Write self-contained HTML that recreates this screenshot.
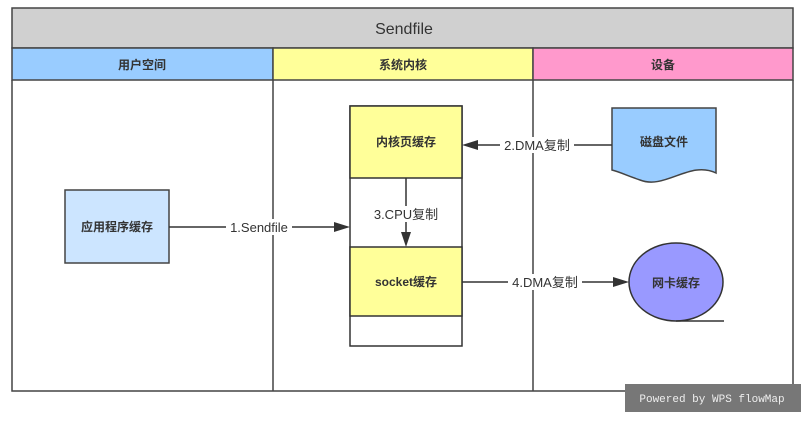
<!DOCTYPE html>
<html><head><meta charset="utf-8"><style>
body{margin:0;background:#fff;width:801px;height:418px;overflow:hidden}
svg text{font-family:"Liberation Sans","Noto Sans CJK SC",sans-serif;fill:#333}
</style></head><body>
<svg width="801" height="418" viewBox="0 0 801 418">
<rect x="0" y="0" width="801" height="418" fill="#fff"/>
<rect x="12" y="8" width="781" height="40" fill="#d0d0d0" stroke="#444" stroke-width="1.5"/>
<text x="404" y="34" font-size="16" text-anchor="middle">Sendfile</text>
<rect x="12" y="48" width="261" height="32" fill="#99ccff" stroke="#444" stroke-width="1.5"/>
<rect x="273" y="48" width="260" height="32" fill="#ffff99" stroke="#444" stroke-width="1.5"/>
<rect x="533" y="48" width="260" height="32" fill="#ff99cc" stroke="#444" stroke-width="1.5"/>
<text x="142" y="69" font-size="12" text-anchor="middle" font-weight="bold">用户空间</text>
<text x="403" y="69" font-size="12" text-anchor="middle" font-weight="bold">系统内核</text>
<text x="663" y="69" font-size="12" text-anchor="middle" font-weight="bold">设备</text>
<path d="M12 80 V391 H793 V80 M273 80 V391 M533 80 V391" fill="none" stroke="#444" stroke-width="1.5"/>
<rect x="65" y="190" width="104" height="73" fill="#cce5ff" stroke="#444" stroke-width="1.5"/>
<text x="117" y="231" font-size="12" text-anchor="middle" font-weight="bold">应用程序缓存</text>
<rect x="350" y="106" width="112" height="240" fill="#fff" stroke="#333" stroke-width="1.5"/>
<rect x="350" y="106" width="112" height="72" fill="#ffff99" stroke="#333" stroke-width="1.5"/>
<rect x="350" y="247" width="112" height="69" fill="#ffff99" stroke="#333" stroke-width="1.5"/>
<text x="406" y="146" font-size="12" text-anchor="middle" font-weight="bold">内核页缓存</text>
<text x="406" y="286" font-size="12" text-anchor="middle" font-weight="bold">socket缓存</text>
<path d="M612 108 H716 V173 C690 160 665 190 640 180 C628 176 620 172 612 170 Z" fill="#99ccff" stroke="#444" stroke-width="1.5"/>
<text x="664" y="146" font-size="12" text-anchor="middle" font-weight="bold">磁盘文件</text>
<ellipse cx="676" cy="282" rx="47" ry="39" fill="#9999ff" stroke="#333" stroke-width="1.5"/>
<line x1="676" y1="321" x2="724" y2="321" stroke="#333" stroke-width="1.5"/>
<text x="676" y="287" font-size="12" text-anchor="middle" font-weight="bold">网卡缓存</text>
<line x1="169" y1="227" x2="338" y2="227" stroke="#333" stroke-width="1.5"/>
<polygon points="350,227 334,222 334,232" fill="#333"/>
<rect x="226" y="219" width="66" height="16" fill="#fff"/>
<text x="259" y="232" font-size="13" text-anchor="middle">1.Sendfile</text>
<line x1="612" y1="145" x2="474" y2="145" stroke="#333" stroke-width="1.5"/>
<polygon points="462,145 478,140 478,150" fill="#333"/>
<rect x="500" y="137" width="74" height="16" fill="#fff"/>
<text x="537" y="150" font-size="13" text-anchor="middle">2.DMA复制</text>
<line x1="406" y1="178" x2="406" y2="236" stroke="#333" stroke-width="1.5"/>
<polygon points="406,247 401,232 411,232" fill="#333"/>
<rect x="372" y="206" width="68" height="16" fill="#fff"/>
<text x="406" y="219" font-size="13" text-anchor="middle">3.CPU复制</text>
<line x1="462" y1="282" x2="617" y2="282" stroke="#333" stroke-width="1.5"/>
<polygon points="629,282 613,277 613,287" fill="#333"/>
<rect x="508" y="274" width="74" height="16" fill="#fff"/>
<text x="545" y="287" font-size="13" text-anchor="middle">4.DMA复制</text>
<rect x="625" y="384" width="176" height="28" fill="#777"/>
<text x="712" y="402" font-size="11" text-anchor="middle" style="font-family:'Liberation Mono',monospace;fill:#eee">Powered by WPS flowMap</text>
</svg>
</body></html>
